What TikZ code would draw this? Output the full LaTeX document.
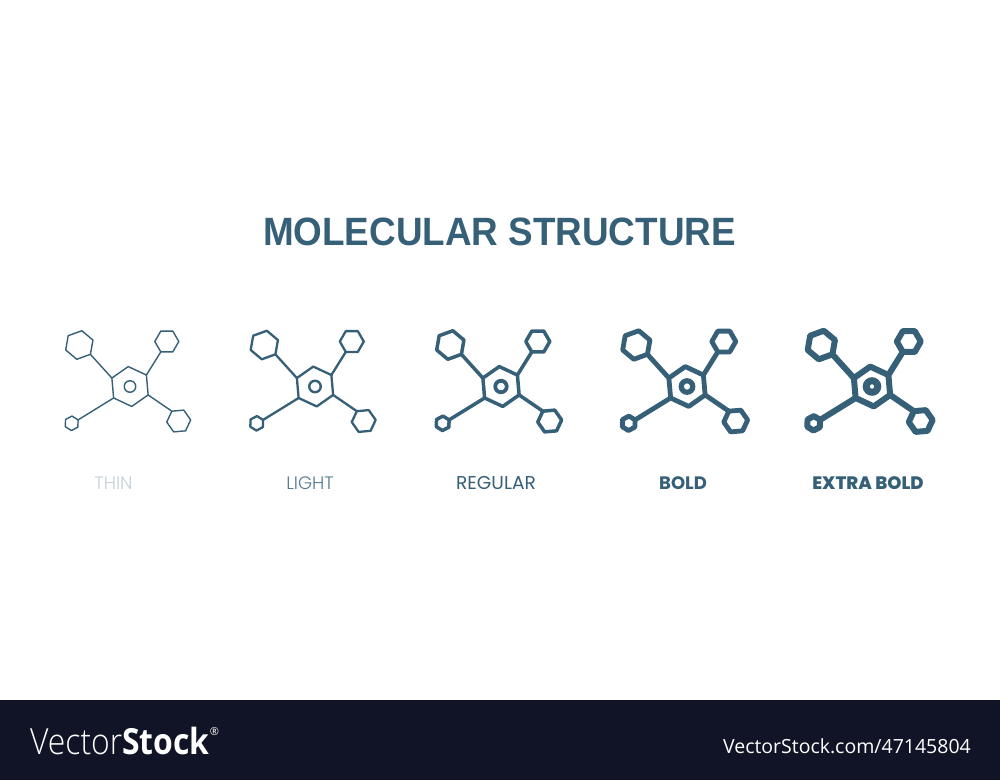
\documentclass[tikz,border=0pt]{standalone}
\usepackage{fontspec}
\usetikzlibrary{shapes.geometric}
\setmainfont{Liberation Sans}
\newfontfamily\titlefont{Liberation Sans}[FakeStretch=0.933]
\newfontfamily\lightfont{Poppins Light}
\newfontfamily\regfont{Poppins}
\newfontfamily\boldfont{Poppins}[UprightFont=*-Bold]
\newfontfamily\heavyfont{Poppins}[UprightFont=*-ExtraBold]
\newfontfamily\footfont{Open Sans}
\newfontfamily\brandlight{Open Sans Light}[FakeStretch=0.885]
\newfontfamily\brandbold{Open Sans}[FakeStretch=0.885]
\definecolor{iconblue}{RGB}{54, 95, 120}
\definecolor{footerbg}{RGB}{17, 20, 38}
\tikzset{
  hexnode/.style={draw=iconblue, regular polygon, regular polygon sides=6, inner sep=0pt, outer sep=0pt, line join=round},
  ringnode/.style={draw=iconblue, circle, inner sep=0pt, outer sep=0pt, minimum size=11.5pt},
  bond/.style={draw=iconblue},
  weightlabel/.style={anchor=center, inner sep=0pt}
}
\begin{document}
\begin{tikzpicture}[x=1pt, y=-1pt]
  \useasboundingbox (0, 0) rectangle (1000, 780);

  % Title
  \node[font=\titlefont\bfseries\fontsize{39.5}{39.5}\selectfont, text=iconblue] (title) at (499.5, 232) {MOLECULAR STRUCTURE};

  % Icons
  \foreach \cx/\lw/\rw/\tag in {130/1.4/1.4/a, 315/2.3/2.4/b, 501/3.5/3.8/c, 687/4.8/5.2/d, 872/6/7/e} {
    \node[hexnode, line width=\lw pt, minimum size=40pt, shape border rotate=35] (cen\tag) at (\cx, 386.5) {};
    \node[ringnode, line width=\rw pt] (ring\tag) at (\cx, 386.5) {};
    \node[hexnode, line width=\lw pt, minimum size=29pt, shape border rotate=20] (tl\tag) at (\cx-50.7, 345) {};
    \node[hexnode, line width=\lw pt, minimum size=24pt] (tr\tag) at (\cx+36.8, 341.5) {};
    \node[hexnode, line width=\lw pt, minimum size=24pt, shape border rotate=5] (lr\tag) at (\cx+48.7, 421) {};
    \node[hexnode, line width=\lw pt, minimum size=14.5pt, shape border rotate=28] (ll\tag) at (\cx-58.3, 423.3) {};
    \draw[bond, line width=\lw pt] (cen\tag.155) -- (tl\tag.-40);
    \draw[bond, line width=\lw pt] (cen\tag.35) -- (tr\tag.240);
    \draw[bond, line width=\lw pt] (cen\tag.335) -- (lr\tag.125);
    \draw[bond, line width=\lw pt] (cen\tag.215) -- (ll\tag.28);
  }

  % Weight labels
  \node[weightlabel, font=\lightfont\fontsize{18}{18}\selectfont, text=iconblue!30] (thin) at (113.5, 483) {THIN};
  \node[weightlabel, font=\lightfont\fontsize{18}{18}\selectfont, text=iconblue!85] (light) at (310, 483) {LIGHT};
  \node[weightlabel, font=\regfont\fontsize{18.6}{18.6}\selectfont, text=iconblue] (regular) at (496, 483) {REGULAR};
  \node[weightlabel, font=\boldfont\fontsize{18}{18}\selectfont, text=iconblue] (bold) at (683, 483) {BOLD};
  \node[weightlabel, font=\heavyfont\fontsize{18}{18}\selectfont, text=iconblue] (extra) at (868, 483) {EXTRA BOLD};

  % Footer
  \fill[footerbg] (0, 700) rectangle (1000, 780);
  \node[anchor=west, inner sep=0pt, text=white, font=\fontsize{36}{36}\selectfont] (brand) at (30, 741) {\brandlight Vector\brandbold\bfseries Stock};
  \node[anchor=north west, inner sep=0pt, text=white, font=\footfont\fontsize{11}{11}\selectfont] (reg) at (brand.north east) {®};
  \node[anchor=east, inner sep=0pt, text=white, font=\footfont\fontsize{19.5}{19.5}\selectfont] (stockid) at (971, 746) {VectorStock.com/47145804};
\end{tikzpicture}
\end{document}
